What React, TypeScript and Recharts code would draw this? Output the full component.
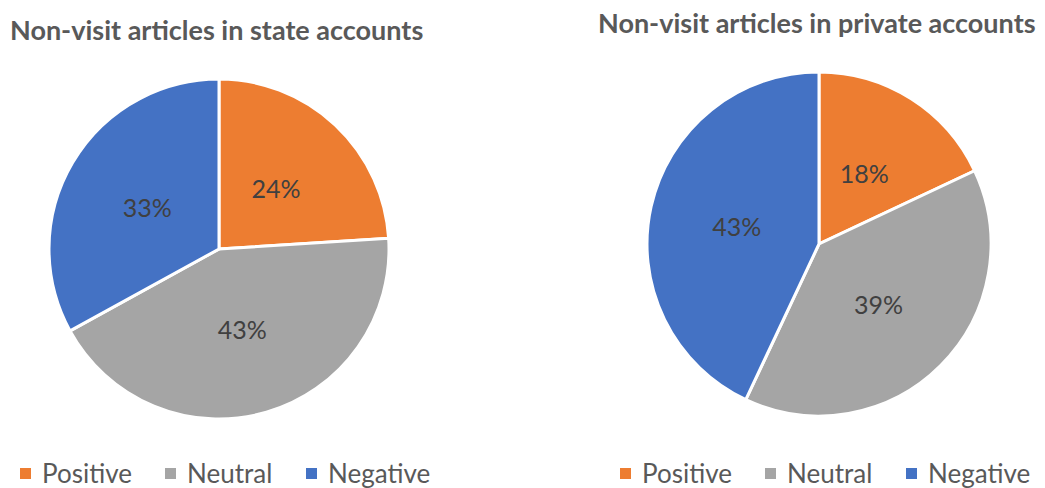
import React from "react";
import { PieChart, Pie, Cell } from "recharts";

const categories = ["Positive", "Neutral", "Negative"];
const colors = ["#ED7D31", "#A5A5A5", "#4472C4"];
const stateValues = [24, 43, 33];
const privateValues = [18, 39, 43];

const FONT = "Lato, 'Open Sans', sans-serif";
const RAD = Math.PI / 180;
const legendItemWidths = [145, 141, 120];

function toRows(values: number[]) {
  return categories.map((name, i) => ({ name, value: values[i] }));
}

function renderLabel(props: any) {
  const { cx, cy, midAngle, outerRadius, value } = props;
  const r = outerRadius * 0.49;
  const x = cx + r * Math.cos(-midAngle * RAD);
  const y = cy + r * Math.sin(-midAngle * RAD);
  return (
    <text
      x={x}
      y={y}
      fill="#404040"
      fontSize={25}
      fontFamily={FONT}
      textAnchor="middle"
      dominantBaseline="central"
    >
      {`${value}%`}
    </text>
  );
}

function PiePanel({
  title,
  values,
  left,
  titleTop,
  titleLeft,
  cx,
  cy,
  radius,
}: {
  title: string;
  values: number[];
  left: number;
  titleTop: number;
  titleLeft: number;
  cx: number;
  cy: number;
  radius: number;
}) {
  const data = toRows(values);
  return (
    <div style={{ position: "absolute", left, top: 0, width: 450, height: 488 }}>
      <div
        style={{
          position: "absolute",
          left: titleLeft,
          top: titleTop,
          fontFamily: FONT,
          fontWeight: 700,
          fontSize: 27,
          lineHeight: "32px",
          color: "#595959",
          whiteSpace: "nowrap",
        }}
      >
        {title}
      </div>
      <PieChart
        width={450}
        height={488}
        margin={{ top: 0, right: 0, bottom: 0, left: 0 }}
        style={{ position: "absolute", left: 0, top: 0 }}
      >
        <Pie
          data={data}
          dataKey="value"
          nameKey="name"
          cx={cx}
          cy={cy}
          outerRadius={radius}
          startAngle={90}
          endAngle={-270}
          stroke="#ffffff"
          strokeWidth={3}
          label={renderLabel}
          labelLine={false}
          isAnimationActive={false}
        >
          {data.map((_, i) => (
            <Cell key={i} fill={colors[i]} />
          ))}
        </Pie>
      </PieChart>
      <div
        style={{
          position: "absolute",
          left: 20,
          top: 459,
          display: "flex",
          alignItems: "center",
          fontFamily: FONT,
          fontSize: 26,
          lineHeight: "28px",
          color: "#595959",
          whiteSpace: "nowrap",
        }}
      >
        {categories.map((c, i) => (
          <div key={c} style={{ display: "flex", alignItems: "center", width: legendItemWidths[i] }}>
            <span style={{ width: 11, height: 11, background: colors[i], marginRight: 11, flexShrink: 0 }} />
            <span>{c}</span>
          </div>
        ))}
      </div>
    </div>
  );
}

export default function App() {
  return (
    <div
      style={{
        position: "absolute",
        left: 0,
        top: 0,
        width: 1045,
        height: 488,
        background: "#ffffff",
        overflow: "hidden",
      }}
    >
      <PiePanel
        title="Non-visit articles in state accounts"
        values={stateValues}
        left={0}
        titleLeft={10}
        titleTop={14}
        cx={219}
        cy={249}
        radius={170}
      />
      <PiePanel
        title="Non-visit articles in private accounts"
        values={privateValues}
        left={600}
        titleLeft={-2}
        titleTop={7}
        cx={219}
        cy={244}
        radius={172}
      />
    </div>
  );
}
